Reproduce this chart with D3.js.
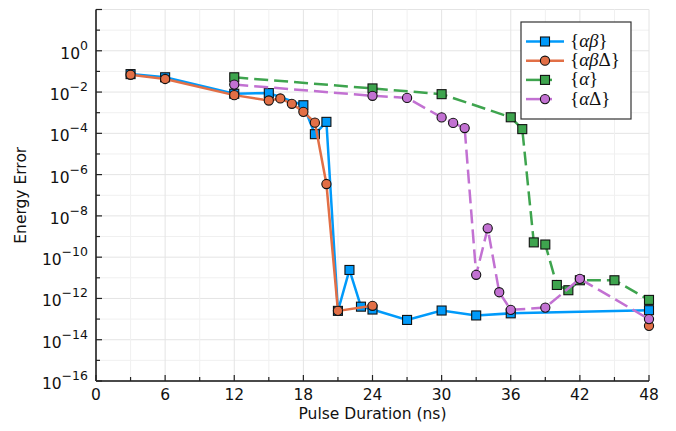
<!DOCTYPE html>
<html>
<head>
<meta charset="utf-8">
<script src="https://cdn.jsdelivr.net/npm/d3@7"></script>
<style>
  body { margin: 0; background: #fff; }
  svg { display: block; font-family: "DejaVu Sans", sans-serif; }
</style>
</head>
<body>
<svg id="chart" width="676" height="431"></svg>
<script>
// pulse durations (ns) and energy errors; null = no result
var abX = [3, 6, 12, 15, 18, 19, 20, 21, 22, 23, 24, 27, 30, 33, 36, 48];
var abY = [7.4e-2, 5.2e-2, 8.3e-3, 8.9e-3, 2.3e-3, 9.1e-5, 3.6e-4, 2.5e-13, 2.4e-11, 4.0e-13, 2.9e-13, 9.1e-14, 2.6e-13, 1.5e-13, 1.9e-13, 2.7e-13];

var abdX = [3, 6, 12, 15, 16, 17, 18, 19, 20, 21, 24, 27, 48];
var abdY = [6.9e-2, 4.3e-2, 7.1e-3, 3.9e-3, 4.9e-3, 2.7e-3, 1.1e-3, 3.3e-4, 3.5e-7, 2.5e-13, 4.4e-13, null, 4.7e-14];

var aX = [12, 24, 30, 36, 37, 38, 39, 40, 41, 42, 45, 48];
var aY = [5.2e-2, 1.5e-2, 7.9e-3, 6.0e-4, 1.6e-4, 5.2e-10, 4.1e-10, 4.5e-12, 2.5e-12, 7.6e-12, 7.6e-12, 8.5e-13];

var adX = [12, 24, 27, 30, 31, 32, 33, 34, 35, 36, 39, 42, 48];
var adY = [2.3e-2, 6.6e-3, 5.2e-3, 5.9e-4, 3.2e-4, 1.8e-4, 1.4e-11, 2.5e-9, 2.0e-12, 2.8e-13, 3.6e-13, 8.9e-12, 1.0e-13];

var xTicks = [0, 6, 12, 18, 24, 30, 36, 42, 48];
var yTickExp = [0, -2, -4, -6, -8, -10, -12, -14, -16];

var series = [
    { name: ['{', 'αβ', '}'], xs: abX, ys: abY, color: '#009AFA', marker: 'square', dash: null },
    { name: ['{', 'αβ', 'Δ}'], xs: abdX, ys: abdY, color: '#E26F46', marker: 'circle', dash: null },
    { name: ['{', 'α', '}'], xs: aX, ys: aY, color: '#3EA44E', marker: 'square', dash: '14,6' },
    { name: ['{', 'α', 'Δ}'], xs: adX, ys: adY, color: '#C271D2', marker: 'circle', dash: '14,6' }
];

var margin = { top: 9.5, right: 27, bottom: 50, left: 96 },
    width = 676 - margin.left - margin.right,
    height = 431 - margin.top - margin.bottom;

var svg = d3.select('#chart');
var g = svg.append('g').attr('transform', 'translate(' + margin.left + ',' + margin.top + ')');

var x = d3.scaleLinear().domain([0, 48]).range([0, width]);
var y = d3.scaleLog().domain([1e-16, 1e2]).range([height, 0]);

// grid: light lines every decade / every 3 ns, a bit darker on labelled ticks
var decades = d3.range(-16, 3);
g.selectAll('.hgrid').data(decades).enter().append('line')
    .attr('x1', 0).attr('x2', width)
    .attr('y1', function (d) { return y(Math.pow(10, d)); })
    .attr('y2', function (d) { return y(Math.pow(10, d)); })
    .attr('stroke', function (d) { return d % 2 === 0 ? '#e4e4e4' : '#f0f0f0'; })
    .attr('stroke-width', 1);

g.selectAll('.vgrid').data(d3.range(0, 49, 3)).enter().append('line')
    .attr('y1', 0).attr('y2', height)
    .attr('x1', function (d) { return x(d); })
    .attr('x2', function (d) { return x(d); })
    .attr('stroke', function (d) { return d % 6 === 0 ? '#e4e4e4' : '#f0f0f0'; })
    .attr('stroke-width', 1);

// axes, ticks pointing inward
var axisColor = '#4a4a4a';
g.append('line').attr('x1', 0).attr('x2', 0).attr('y1', 0).attr('y2', height)
    .attr('stroke', axisColor).attr('stroke-width', 2);
g.append('line').attr('x1', 0).attr('x2', width).attr('y1', height).attr('y2', height)
    .attr('stroke', axisColor).attr('stroke-width', 2);

g.selectAll('.ytick').data(decades).enter().append('line')
    .attr('x1', 0).attr('x2', function (d) { return d % 2 === 0 ? 6 : 4; })
    .attr('y1', function (d) { return y(Math.pow(10, d)); })
    .attr('y2', function (d) { return y(Math.pow(10, d)); })
    .attr('stroke', '#222').attr('stroke-width', 1.2);

g.selectAll('.xtick').data(d3.range(0, 49, 3)).enter().append('line')
    .attr('x1', function (d) { return x(d); })
    .attr('x2', function (d) { return x(d); })
    .attr('y1', height).attr('y2', function (d) { return d % 6 === 0 ? height - 6 : height - 4; })
    .attr('stroke', '#222').attr('stroke-width', 1.2);

g.selectAll('.xlab').data(xTicks).enter().append('text')
    .attr('x', function (d) { return x(d); })
    .attr('y', height + 19)
    .attr('text-anchor', 'middle')
    .attr('font-size', 15.5)
    .attr('fill', '#111')
    .text(function (d) { return d; });

var ylab = g.selectAll('.ylab').data(yTickExp).enter().append('text')
    .attr('x', -8)
    .attr('y', function (d) { return y(Math.pow(10, d)) + 8; })
    .attr('text-anchor', 'end')
    .attr('font-size', 15.5)
    .attr('fill', '#111');
ylab.append('tspan').text('10');
ylab.append('tspan').attr('dy', -9).attr('font-size', 12.5)
    .text(function (d) { return d < 0 ? '\u2212' + (-d) : d; });

svg.append('text')
    .attr('x', margin.left + width / 2)
    .attr('y', 419)
    .attr('text-anchor', 'middle')
    .attr('font-size', 15.5)
    .attr('fill', '#111')
    .text('Pulse Duration (ns)');

svg.append('text')
    .attr('transform', 'translate(26,' + (margin.top + height / 2) + ') rotate(-90)')
    .attr('text-anchor', 'middle')
    .attr('font-size', 15.5)
    .attr('fill', '#111')
    .text('Energy Error');

// series
var line = d3.line()
    .defined(function (d) { return d.v !== null; })
    .x(function (d) { return x(d.t); })
    .y(function (d) { return y(d.v); });

var drawMarker = function (sel, kind, color) {
    if (kind === 'square') {
        sel.append('rect')
            .attr('x', -4.5).attr('y', -4.5).attr('width', 9).attr('height', 9)
            .attr('fill', color).attr('stroke', '#111').attr('stroke-width', 1.1);
    } else {
        sel.append('circle')
            .attr('r', 4.6)
            .attr('fill', color).attr('stroke', '#111').attr('stroke-width', 1.1);
    }
};

series.forEach(function (s) {
    var pts = s.xs.map(function (t, i) { return { t: t, v: s.ys[i] }; });
    g.append('path')
        .datum(pts)
        .attr('d', line)
        .attr('fill', 'none')
        .attr('stroke', s.color)
        .attr('stroke-width', 2.5)
        .attr('stroke-dasharray', s.dash);
    var m = g.selectAll(null).data(pts.filter(function (d) { return d.v !== null; })).enter().append('g')
        .attr('transform', function (d) { return 'translate(' + x(d.t) + ',' + y(d.v) + ')'; });
    drawMarker(m, s.marker, s.color);
});

// legend
var lg = svg.append('g').attr('transform', 'translate(521,22)');
lg.append('rect').attr('width', 110).attr('height', 97)
    .attr('fill', '#fff').attr('stroke', '#333').attr('stroke-width', 1.2);
series.forEach(function (s, i) {
    var row = lg.append('g').attr('transform', 'translate(0,' + (19.5 + i * 19.2) + ')');
    row.append('line').attr('x1', 5).attr('x2', 43).attr('y1', 0).attr('y2', 0)
        .attr('stroke', s.color).attr('stroke-width', 2.5)
        .attr('stroke-dasharray', s.dash ? '26,20' : null);
    drawMarker(row.append('g').attr('transform', 'translate(24,0)'), s.marker, s.color);
    var t = row.append('text').attr('x', 49).attr('y', 5.5)
        .attr('font-family', '"Liberation Serif", "DejaVu Serif", serif')
        .attr('font-size', 19).attr('fill', '#111');
    t.append('tspan').text(s.name[0]);
    t.append('tspan').attr('font-style', 'italic').text(s.name[1]);
    t.append('tspan').text(s.name[2]);
});
</script>
</body>
</html>
